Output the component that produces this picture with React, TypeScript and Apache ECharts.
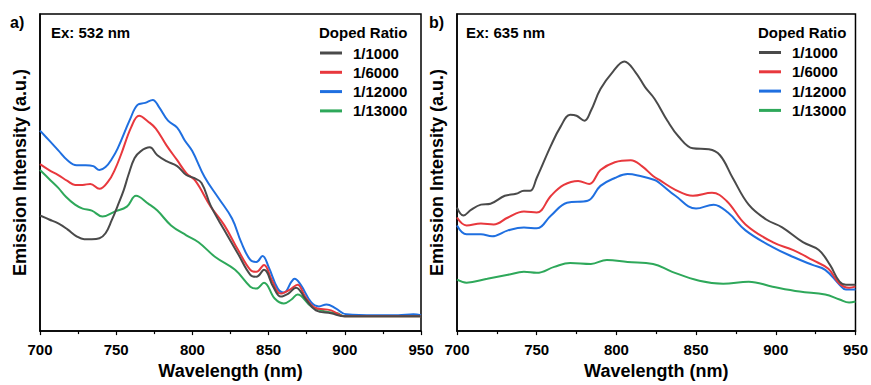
import React, { useEffect, useRef } from "react";
import * as echarts from "echarts";

const names = ["1/1000", "1/6000", "1/12000", "1/13000"];
const colors = ["#4a4a4a", "#e8383d", "#1f6fe0", "#2ea85a"];
const xTicks = [700, 750, 800, 850, 900, 950];

// Panel a) Ex: 532 nm  [wavelength nm, intensity a.u.]
const a1000: number[][] = [
  [700, 117], [706, 113], [712, 109], [718, 103], [724, 96], [729, 93], [734, 93], [739, 94], [743, 99],
  [747, 112], [751, 127], [755, 143], [758, 158], [762, 175], [766, 182], [772, 186], [777, 178], [783, 172],
  [790, 167], [796, 158], [801, 155], [806, 150], [812, 127], [821, 102], [830, 78], [838, 57],
  [842, 55], [847, 62], [853, 45], [858, 35], [863, 38], [868, 44], [874, 33], [881, 21], [891, 18],
  [900, 15], [920, 15], [940, 15], [950, 15],
];
const a6000: number[][] = [
  [700, 169], [706, 163], [712, 158], [718, 152], [723, 148], [728, 148], [733, 149], [739, 144],
  [745, 152], [749, 163], [753, 178], [760, 207], [765, 218], [771, 212], [776, 205], [783, 188],
  [790, 173], [796, 160], [802, 152], [812, 126], [821, 107], [830, 82], [838, 62], [842, 60],
  [847, 67], [852, 52], [858, 38], [864, 42], [869, 47], [874, 35], [880, 24], [891, 21], [900, 15],
  [920, 15], [940, 15], [950, 15],
];
const a12000: number[][] = [
  [700, 203], [706, 193], [712, 183], [718, 173], [724, 168], [730, 168], [735, 167], [739, 163],
  [743, 166], [747, 174], [751, 185], [759, 214], [764, 229], [769, 231], [774, 234], [778, 227], [784, 213],
  [790, 206], [795, 193], [800, 182], [808, 156], [817, 135], [826, 114], [832, 90], [838, 72],
  [842, 70], [846, 76], [850, 65], [856, 43], [860, 39], [865, 50], [867, 53], [871, 47], [878, 29],
  [883, 25], [888, 27], [894, 23], [901, 17], [920, 16], [935, 16], [945, 17], [950, 16],
];
const a13000: number[][] = [
  [700, 163], [706, 154], [712, 145], [717, 136], [723, 128], [728, 124], [734, 122], [741, 116],
  [749, 121], [757, 126], [763, 137], [771, 129], [777, 122], [786, 107], [796, 97], [804, 90],
  [815, 75], [828, 62], [838, 45], [842, 43], [847, 49], [854, 33], [860, 28], [865, 32], [869, 37],
  [878, 25], [887, 20], [895, 18], [900, 15], [920, 15], [940, 15], [950, 15],
];

// Panel b) Ex: 635 nm
const b1000: number[][] = [
  [700, 125], [704, 117], [709, 123], [715, 128], [721, 129], [730, 137], [737, 139], [742, 142],
  [746, 142], [750, 155], [759, 188], [765, 207], [771, 219], [775, 218], [780, 213], [784, 223],
  [790, 245], [798, 263], [805, 273], [812, 262], [818, 247], [824, 235], [832, 213], [839, 197],
  [848, 185], [858, 184], [865, 178], [873, 155], [883, 128], [894, 113], [904, 105], [917, 90],
  [927, 82], [934, 67], [940, 50], [944, 47], [950, 47],
];
const b6000: number[][] = [
  [700, 115], [706, 107], [715, 109], [723, 108], [732, 115], [742, 121], [750, 120], [759, 137],
  [767, 148], [776, 152], [783, 149], [790, 163], [799, 171], [809, 173], [816, 167], [823, 157],
  [827, 153], [837, 143], [848, 137], [860, 140], [869, 132], [881, 108], [898, 90], [911, 82],
  [923, 72], [933, 63], [940, 48], [946, 44], [950, 45],
];
const b12000: number[][] = [
  [700, 107], [706, 98], [715, 98], [722, 96], [732, 102], [742, 105], [750, 104], [759, 117],
  [769, 130], [782, 132], [790, 147], [799, 155], [807, 159], [815, 157], [824, 153], [827, 150],
  [837, 137], [850, 124], [861, 128], [870, 120], [881, 102], [898, 85], [911, 75], [923, 67],
  [931, 62], [940, 47], [944, 42], [950, 42],
];
const b13000: number[][] = [
  [700, 52], [706, 49], [719, 53], [732, 57], [742, 60], [750, 59], [761, 65], [771, 69], [784, 68],
  [794, 72], [807, 70], [823, 68], [835, 60], [852, 51], [867, 48], [883, 50], [898, 45], [915, 40],
  [931, 37], [940, 32], [946, 29], [950, 30],
];

const panelA = [a1000, a6000, a12000, a13000];
const panelB = [b1000, b6000, b12000, b13000];

const FONT = "Arial, 'Liberation Sans', sans-serif";

export default function App() {
  const ref = useRef<HTMLDivElement>(null);
  useEffect(() => {
    if (!ref.current) return;
    const chart = echarts.init(ref.current, undefined, { renderer: "svg" });

    const xAxisBase = (gridIndex: number) => ({
      type: "value",
      gridIndex,
      min: 700,
      max: 950,
      interval: 50,
      name: "Wavelength (nm)",
      nameLocation: "middle",
      nameGap: 29,
      nameTextStyle: { fontFamily: FONT, fontWeight: "bold", fontSize: 18, color: "#000" },
      axisLine: { show: true, lineStyle: { color: "#000", width: 1.5 } },
      axisTick: { show: true, inside: false, length: 4, lineStyle: { color: "#000", width: 1.2 } },
      minorTick: { show: true, splitNumber: 2, length: 3, lineStyle: { color: "#000", width: 1.2 } },
      splitLine: { show: false },
      axisLabel: {
        margin: 11,
        fontFamily: FONT,
        fontWeight: "bold",
        fontSize: 15,
        color: "#000",
        formatter: (v: number) => (xTicks.includes(v) ? String(v) : ""),
      },
    });
    const yAxisBase = (gridIndex: number) => ({
      type: "value",
      gridIndex,
      min: 0,
      max: 321,
      name: "Emission Intensity (a.u.)",
      nameLocation: "middle",
      nameRotate: 90,
      nameGap: 11,
      nameTextStyle: { fontFamily: FONT, fontWeight: "bold", fontSize: 18, color: "#000" },
      axisLine: { show: true, lineStyle: { color: "#000", width: 1.5 } },
      axisTick: { show: false },
      axisLabel: { show: false },
      splitLine: { show: false },
    });

    const series: any[] = [];
    panelA.forEach((d, i) =>
      series.push({
        type: "line",
        name: names[i],
        xAxisIndex: 0,
        yAxisIndex: 0,
        data: d,
        showSymbol: false,
        smooth: 0.4,
        lineStyle: { color: colors[i], width: 2 },
        itemStyle: { color: colors[i] },
        z: 10 - i,
      })
    );
    panelB.forEach((d, i) =>
      series.push({
        type: "line",
        name: names[i],
        xAxisIndex: 1,
        yAxisIndex: 1,
        data: d,
        showSymbol: false,
        smooth: 0.4,
        lineStyle: { color: colors[i], width: 2 },
        itemStyle: { color: colors[i] },
        z: 10 - i,
      })
    );

    const titleText = (text: string, left: number, top: number, size = 15) => ({
      text,
      left,
      top,
      padding: 0,
      textStyle: { fontFamily: FONT, fontWeight: "bold", fontSize: size, color: "#000", lineHeight: size },
    });

    const legendBase = (left: number, top: number) => ({
      orient: "vertical",
      left,
      top,
      padding: 0,
      icon: "rect",
      itemWidth: 22,
      itemHeight: 3,
      itemGap: 4.3,
      data: names,
      textStyle: {
        fontFamily: FONT,
        fontWeight: "bold",
        fontSize: 15,
        color: "#000",
        lineHeight: 15,
        padding: [0, 0, 0, 6],
      },
    });

    chart.setOption({
      animation: false,
      backgroundColor: "#fff",
      title: [
        titleText("a)", 10, 14, 16),
        titleText("b)", 429, 14, 16),
        titleText("Ex: 532 nm", 51, 25),
        titleText("Ex: 635 nm", 466, 25),
        titleText("Doped Ratio", 319, 25),
        titleText("Doped Ratio", 758, 25),
      ],
      legend: [legendBase(320, 45.5), legendBase(759, 45)],
      grid: [
        { left: 40, top: 14, width: 381, height: 321, show: true, borderColor: "#000", borderWidth: 1.5, backgroundColor: "transparent" },
        { left: 457, top: 14, width: 400, height: 321, show: true, borderColor: "#000", borderWidth: 1.5, backgroundColor: "transparent" },
      ],
      xAxis: [xAxisBase(0), xAxisBase(1)],
      yAxis: [yAxisBase(0), yAxisBase(1)],
      series,
    });
    return () => chart.dispose();
  }, []);
  return (
    <div
      ref={ref}
      style={{ position: "fixed", left: 0, top: 0, width: 871, height: 385, background: "#fff" }}
    />
  );
}
